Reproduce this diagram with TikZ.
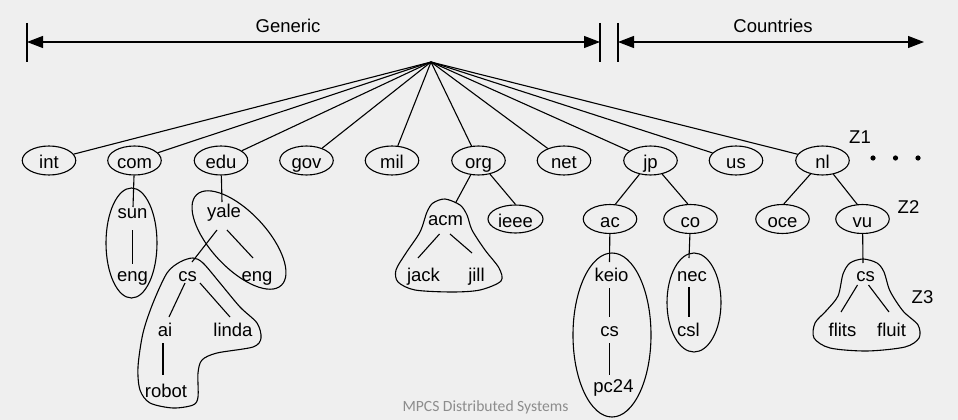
\documentclass[tikz,border=0pt]{standalone}
\usepackage{fontspec}
\setmainfont{Liberation Sans}
\newfontfamily\footfont{Carlito}
\usetikzlibrary{shapes.geometric,arrows.meta,calc}
\definecolor{bgcol}{RGB}{239,239,239}
\definecolor{footgray}{RGB}{140,140,140}
\begin{document}
\begin{tikzpicture}[x=1pt,y=-1pt,line width=1.1pt,
  lbl/.style={inner sep=0pt,font=\fontsize{18.5}{20}\selectfont},
  txt/.style={inner sep=0pt,text height=13.6pt,text depth=4pt,font=\fontsize{18.5}{20}\selectfont},
  ell/.style={draw,ellipse,inner sep=0pt,text height=17pt,text depth=1pt,
    minimum width=53.5pt,minimum height=29pt,font=\fontsize{18.5}{20}\selectfont},
  tip/.tip={Triangle[length=16pt,width=12pt]}]
\fill[bgcol] (0,0) rectangle (958,420);
\useasboundingbox (0,0) rectangle (958,420);

% ---- scale arrows
\coordinate (gL) at (27,42);
\coordinate (gR) at (600,42);
\coordinate (cL) at (618,42);
\coordinate (cR) at (924,42);
\draw ($(gL)+(0,-19)$) -- ($(gL)+(0,20)$);
\draw ($(gR)+(0,-19)$) -- ($(gR)+(0,20)$);
\draw ($(cL)+(0,-19)$) -- ($(cL)+(0,20)$);
\draw[tip-tip] (gL) -- (gR);
\draw[tip-tip] (cL) -- (cR);
\node[lbl,anchor=base] (generic) at (288,33) {Generic};
\node[lbl,anchor=base] (countries) at (773,33) {Countries};

% ---- top level
\coordinate (root) at (431,62);
\node[ell] (int) at (49,160.5) {int};
\node[ell] (com) at (134.5,160.5) {com};
\node[ell] (edu) at (221,160.5) {edu};
\node[ell] (gov) at (306.5,160.5) {gov};
\node[ell] (mil) at (392,160.5) {mil};
\node[ell] (org) at (478.5,160.5) {org};
\node[ell] (net) at (564,160.5) {net};
\node[ell] (jp) at (650.5,160.5) {jp};
\node[ell] (us) at (736,160.5) {us};
\node[ell] (nl) at (822.5,160.5) {nl};
\foreach \n in {int,com,edu,gov,mil,org,net,jp,us,nl} \draw (root) -- (\n);

% ---- com subtree
\node[txt] (sun) at (132.5,214) {sun};
\node[txt] (eng1) at (132.5,277) {eng};
\draw (131.5,243) ellipse [x radius=25.5pt,y radius=55pt];
\draw (com) -- ($(sun)+(0.5,-7)$);
\draw ($(sun)+(0,16)$) -- ($(eng1)+(0,-13)$);

% ---- edu subtree
\node[txt] (yale) at (224,213) {yale};
\node[txt] (eng2) at (257,277) {eng};
\node[txt] (cs1) at (187.5,277) {cs};
\node[txt] (ai) at (165,332) {ai};
\node[txt] (linda) at (233,332) {linda};
\node[txt] (robot) at (166,393) {robot};
\draw[rotate around={-47:(239,240)}] (239,240) ellipse [x radius=62pt,y radius=28pt];
\draw plot[smooth cycle] coordinates {(193,258) (203,263) (220,283) (240,307) (257,323)
  (261,338) (253,347) (217,353) (202,360) (198,373) (198,397) (193,405) (173,408)
  (150,403) (140,390) (138,367) (143,333) (153,303) (167,273) (180,262)};
\draw (edu) -- ($(yale)+(-2,-11)$);
\draw ($(yale)+(3,17)$) -- ($(eng2)+(-4,-19)$);
\draw ($(yale)+(-7,17)$) -- ($(cs1)+(4.5,-15)$);
\draw ($(cs1)+(-2.5,6)$) -- ($(ai)+(4,-15)$);
\draw ($(cs1)+(12.5,6)$) -- ($(linda)+(-3,-15)$);
\draw ($(ai)+(-2,11)$) -- ($(robot)+(-3,-18)$);

% ---- org subtree
\node[txt] (acm) at (445.5,221) {acm};
\node[ell,minimum width=55pt,minimum height=28pt] (ieee) at (515.5,219) {ieee};
\node[txt] (jack) at (423.5,277) {jack};
\node[txt] (jill) at (476.5,277) {jill};
\draw plot[smooth cycle] coordinates {(445,199) (460,205) (467,215) (472,230) (485,250)
  (499,268) (501,281) (480,290) (452,292) (415,290) (398,282) (396,270) (406,253)
  (420,232) (427,212) (433,203)};
\draw (org) -- ($(acm)+(10,-18)$);
\draw (org) -- (ieee.north);
\draw ($(acm)+(-6,13)$) -- ($(jack)+(-5.5,-19)$);
\draw ($(acm)+(4.5,13)$) -- ($(jill)+(-4.5,-24)$);

% ---- jp subtree
\node[ell] (ac) at (610,219) {ac};
\node[ell] (co) at (690.5,219) {co};
\node[txt] (keio) at (611.5,277) {keio};
\node[txt] (cs2) at (609.5,332) {cs};
\node[txt] (pc24) at (613.5,388) {pc24};
\node[txt] (nec) at (692,277) {nec};
\node[txt] (csl) at (688.5,332) {csl};
\draw (612,335) ellipse [x radius=39pt,y radius=82pt];
\draw (694,302.5) ellipse [x radius=27pt,y radius=49.5pt];
\draw (jp) -- (ac.70);
\draw (jp) -- (co.100);
\draw (ac) -- ($(keio)+(-2,-15)$);
\draw ($(keio)+(-2,11)$) -- ($(cs2)+(0,-15)$);
\draw ($(cs2)+(0,11)$) -- ($(pc24)+(-4,-13)$);
\draw (co) -- ($(nec)+(-3,-19)$);
\draw ($(nec)+(-3,10)$) -- ($(csl)+(0.5,-15)$);

% ---- nl subtree
\node[ell] (oce) at (782.5,219) {oce};
\node[ell] (vu) at (862.5,219) {vu};
\node[txt] (cs3) at (865.5,277) {cs};
\node[txt] (flits) at (842.5,332) {flits};
\node[txt] (fluit) at (891.5,332) {fluit};
\draw plot[smooth cycle] coordinates {(863,259) (877,263) (884,272) (890,291) (903,311)
  (918,325) (919,338) (905,347) (867,351) (830,348) (814,338) (815,323) (826,311)
  (838,296) (843,274) (850,263)};
\draw (nl) -- (oce.85);
\draw (nl) -- (vu.110);
\draw (vu) -- ($(cs3)+(-2.5,-14)$);
\draw ($(cs3)+(-8,8)$) -- ($(flits)+(-1.5,-20)$);
\draw ($(cs3)+(3,8)$) -- ($(fluit)+(-2.5,-20)$);

% ---- zone labels and dots
\node[lbl,anchor=base] (z1) at (860,143) {Z1};
\node[lbl,anchor=base] (z2) at (908.5,213) {Z2};
\node[lbl,anchor=base] (z3) at (922.5,303) {Z3};
\fill (873,158) circle[radius=2.6pt];
\fill (895.5,158) circle[radius=2.6pt];
\fill (918,158) circle[radius=2.6pt];

% ---- footer
\node[inner sep=0pt,anchor=base,text=footgray,font=\footfont\fontsize{15.6}{17}\selectfont]
  (foot) at (485.5,411) {MPCS Distributed Systems};
\end{tikzpicture}
\end{document}
